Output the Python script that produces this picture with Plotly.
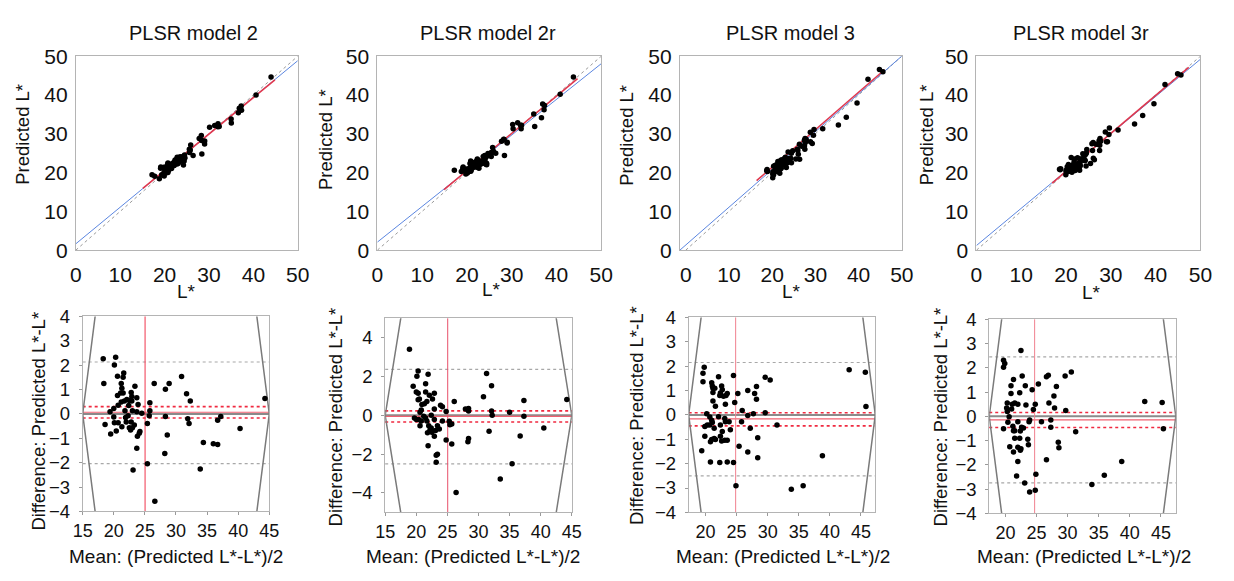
import plotly.graph_objects as go

W, H = 1234, 581
FONT = "Liberation Sans, Arial, sans-serif"

panel_titles = ["PLSR model 2", "PLSR model 2r", "PLSR model 3", "PLSR model 3r"]

# ---- Bland-Altman data: mean of (pred, L*) and difference pred - L* ----
mean_2 = [18.3, 20.3, 20.1, 20.6, 21.6, 21.5, 18.4, 21.2, 21.3, 21.5, 21.1, 20.6, 23.4, 22.8, 22.9,
          23.7, 22.1, 21.7, 22.5, 22.9, 21.2, 20.7, 20.0, 19.4, 21.8, 23.0, 23.7, 23.9, 18.6, 20.0,
          20.1, 20.7, 20.4, 19.5, 21.3, 22.0, 22.3, 22.8, 22.5, 22.7, 23.0, 23.8, 24.1, 24.2, 23.7,
          23.1, 26.5, 25.8, 25.8, 25.7, 25.4, 25.4, 26.6, 28.9, 28.3, 28.3, 28.6, 28.2, 30.9, 31.7,
          32.3, 31.9, 32.1, 33.9, 34.4, 36.0, 36.7, 36.7, 37.2, 40.3, 44.3, 24.5, 22.4, 23.3, 21.9]
diff_2 = [2.26, 2.33, 2.01, 1.55, 1.68, 1.51, 1.25, 1.25, 1.05, 0.86, 0.86, 0.76, 1.14, 0.88, 0.72,
          0.66, 0.59, 0.53, 0.55, 0.53, 0.49, 0.36, 0.22, 0.09, 0.13, 0.13, 0.09, 0.39, -0.43, -0.13,
          -0.36, -0.36, -0.70, -0.82, -0.53, -0.33, -0.07, -0.33, -0.57, -0.66, -0.57, -0.92, -0.79, -0.72, -1.41,
          -2.30, 1.25, 0.46, 0.13, -0.07, -0.39, -2.04, -3.58, 1.25, 1.01, -0.11, -0.86, -1.62, 1.54, 0.83,
          0.53, -0.20, -0.39, -2.26, -1.17, -1.22, -1.25, -0.26, -0.11, -0.60, 0.63, 0.03, 0.35, -0.45, -0.15]

mean_2r = [18.9, 19.5, 20.3, 20.1, 21.9, 20.0, 20.3, 21.5, 21.5, 22.1, 22.9, 22.6, 20.5, 20.3, 21.3,
           20.9, 21.7, 23.9, 24.2, 22.9, 20.8, 20.6, 19.7, 20.0, 20.4, 20.8, 20.6, 21.5, 21.7, 22.4,
           22.9, 22.0, 22.4, 22.5, 21.8, 23.1, 23.4, 23.7, 22.9, 21.9, 23.4, 23.2, 23.2, 24.2, 24.8,
           24.8, 25.3, 25.4, 25.7, 26.1, 25.7, 26.4, 27.9, 28.4, 28.4, 28.4, 28.3, 30.8, 31.3, 32.1,
           31.7, 32.1, 32.2, 33.5, 35.0, 35.4, 37.3, 37.3, 36.7, 40.5, 44.2, 22.2, 21.2]
diff_2r = [3.41, 1.50, 2.29, 2.02, 2.12, 1.21, 1.14, 1.63, 1.21, 1.04, 1.14, 0.85, 0.85, 0.80, 0.60,
           0.56, 0.72, 0.52, 0.44, 0.33, 0.28, 0.16, -0.13, -0.21, -0.21, -0.29, -0.54, -0.13, -0.29, 0.00,
           -0.21, -0.54, -0.65, -0.87, -0.90, -0.78, -0.54, -0.70, -1.08, -1.57, -2.00, -2.06, -2.42, -0.29, -1.27,
           0.20, -0.30, -0.48, -0.45, 0.72, -1.47, -3.97, 0.33, 0.23, 0.36, -1.19, -1.36, 0.96, 2.16, 1.53,
           -0.82, 0.23, 0.00, -3.28, 0.16, -2.50, 0.77, -0.05, -1.06, -0.65, 0.82, -0.75, -0.05]

mean_3 = [19.8, 19.6, 19.6, 19.4, 20.2, 19.9, 19.9, 20.7, 20.7, 20.3, 21.0, 21.1, 21.2, 21.2, 21.0,
          21.1, 21.0, 20.8, 21.4, 21.4, 21.6, 21.6, 21.2, 21.5, 20.8, 22.1, 22.1, 22.3, 22.4, 22.6,
          22.7, 22.4, 22.7, 22.4, 22.6, 22.3, 22.9, 23.3, 23.5, 23.1, 23.2, 23.2, 23.5, 23.1, 23.5,
          23.8, 24.0, 24.5, 24.7, 24.5, 24.9, 25.2, 25.4, 25.9, 25.8, 26.8, 26.8, 26.8, 27.2, 27.7,
          27.9, 28.2, 28.2, 28.4, 28.4, 29.6, 30.4, 29.6, 31.5, 33.8, 35.7, 38.8, 43.1, 45.7, 45.8]
diff_3 = [1.95, 1.71, 1.36, -1.47, 0.05, -0.48, -0.88, -0.09, -0.41, -0.41, 1.32, 1.19, 0.92, 0.57, -0.22,
          -0.31, -1.01, -1.10, -0.55, -0.97, -1.01, 0.35, 1.09, 1.09, -1.93, 1.56, -0.08, 0.80, 0.90, 1.19,
          1.03, -0.41, -0.68, -0.88, -1.07, -1.95, 0.77, 0.80, 0.88, -0.15, -0.28, 0.44, -1.04, -1.04, -1.93,
          -0.28, -0.61, 1.62, 0.51, -1.95, -2.91, 0.88, -1.29, 0.18, -0.28, 1.00, -0.02, -1.52, -0.55, 0.05,
          0.88, 0.64, 1.17, -0.94, -1.76, 1.54, 1.43, 0.09, -0.41, -3.05, -2.91, -1.68, 1.85, 1.75, 0.34]

mean_3r = [19.7, 19.9, 19.7, 19.7, 20.3, 20.2, 20.3, 20.4, 20.6, 20.7, 20.9, 20.9, 21.1, 21.2, 21.3,
           21.5, 21.3, 21.5, 21.5, 21.3, 21.8, 22.0, 22.0, 22.0, 22.0, 22.5, 22.3, 22.4, 22.3, 22.4,
           22.5, 22.7, 22.9, 23.1, 23.2, 23.3, 23.6, 23.7, 23.8, 23.9, 23.9, 24.3, 24.5, 24.8, 24.9,
           24.8, 25.3, 25.8, 26.6, 26.9, 27.0, 27.3, 27.3, 26.6, 27.8, 28.2, 27.9, 28.5, 28.6, 29.6,
           30.6, 29.7, 31.3, 33.9, 35.9, 38.7, 42.4, 45.2, 45.4, 21.0, 22.6]
diff_3r = [2.31, 2.18, 2.02, -0.51, 0.55, 0.34, 0.20, -0.24, -0.02, -1.25, 1.26, 0.94, 0.50, -0.41, -0.59,
           -0.59, 1.52, 0.55, -0.90, -1.47, -2.46, 0.50, -0.22, -1.27, -1.86, 2.71, 0.97, -0.61, -0.90, -1.40,
           -1.34, 1.66, -0.48, -2.75, 1.26, 0.47, -0.94, -1.17, -0.22, -0.15, -3.12, 1.10, 0.28, 0.50, -2.39,
           -3.05, 1.33, -0.22, 1.63, 1.69, 0.55, -0.15, -0.45, -1.79, 0.84, 1.23, 0.34, -1.07, -1.30, 1.66,
           1.83, 0.24, -0.64, -2.81, -2.43, -1.86, 0.61, 0.57, -0.51, 0.30, -0.45]

means = [mean_2, mean_2r, mean_3, mean_3r]
diffs = [diff_2, diff_2r, diff_3, diff_3r]

# ---- fit lines in the predicted-vs-measured panels ----
blue_intercept = [1.64, 2.07, 1.32, 1.20]
blue_slope = [0.944, 0.92, 0.974, 0.96]
red_x0 = [15.1, 14.9, 16.4, 16.9]
red_y0 = [15.9, 15.6, 17.9, 17.3]
red_x1 = [44.85, 44.7, 46.0, 47.4]
red_y1 = [43.9, 44.2, 46.5, 47.1]

# ---- Bland-Altman summary lines ----
mean_diff = [0.07, -0.05, -0.16, -0.15]
ci_low = [-0.17, -0.34, -0.45, -0.46]
ci_high = [0.30, 0.23, 0.09, 0.16]
loa_low = [-2.04, -2.50, -2.50, -2.74]
loa_high = [2.13, 2.37, 2.15, 2.45]
mean_of_means = [25.03, 25.05, 24.85, 24.70]
funnel_left = [15.0, 15.0, 17.3, 17.4]
funnel_right = [45.0, 45.0, 47.3, 47.4]
funnel_slope = 2.0

# ---- axes ----
top_xrange = [[0, 50], [0, 50], [-1.36, 50], [0, 50]]
top_ticks = [0, 10, 20, 30, 40, 50]
bot_xrange = [[15, 45], [15, 45], [17.3, 47.3], [17.4, 47.4]]
bot_yrange = [[-4, 4], [-5, 5], [-4, 4], [-4, 4]]
bot_xticks = [[15, 20, 25, 30, 35, 40, 45], [15, 20, 25, 30, 35, 40, 45],
              [20, 25, 30, 35, 40, 45], [20, 25, 30, 35, 40, 45]]
bot_yticks = [[-4, -3, -2, -1, 0, 1, 2, 3, 4], [-4, -2, 0, 2, 4],
              [-4, -3, -2, -1, 0, 1, 2, 3, 4], [-4, -3, -2, -1, 0, 1, 2, 3, 4]]

# pixel layout of the plot areas
top_px_x = [(67, 293), (374, 602), (682, 908), (984, 1212)]
top_px_y = (46, 248)
bot_px_x = [(74, 264), (382, 572), (691, 881), (997, 1187)]
bot_px_y = [(317, 520), (319, 521), (318, 521), (320, 522)]

vline_colors = ["#f0364c", "#e8506a", "#f0808e", "#f0808e"]


def px_dom_x(a, b):
    return [a / W, b / W]


def px_dom_y(a, b):
    return [1 - b / H, 1 - a / H]


fig = go.Figure()
layout = dict(
    width=W, height=H, margin=dict(l=0, r=0, t=0, b=0),
    paper_bgcolor="white", plot_bgcolor="white", showlegend=False,
    font=dict(family=FONT, color="#111111"),
)
shapes = []
annotations = []

axis_common = dict(showgrid=False, zeroline=False, showline=True, mirror=True,
                   linecolor="#b4b4b4", linewidth=1)

for i in range(4):
    # ---------------- top panel ----------------
    ti = i + 1
    xa = "x" if ti == 1 else f"x{ti}"
    ya = "y" if ti == 1 else f"y{ti}"
    m, d = means[i], diffs[i]
    meas = [mm - dd / 2 for mm, dd in zip(m, d)]
    pred = [mm + dd / 2 for mm, dd in zip(m, d)]
    x0r, x1r = top_xrange[i]
    fig.add_trace(go.Scatter(x=[0, 50], y=[0, 50], mode="lines", xaxis=xa, yaxis=ya,
                             line=dict(color="#9a9a9a", width=1, dash="dot"), hoverinfo="skip"))
    fig.add_trace(go.Scatter(x=[x0r, x1r],
                             y=[blue_intercept[i] + blue_slope[i] * x0r, blue_intercept[i] + blue_slope[i] * x1r],
                             mode="lines", xaxis=xa, yaxis=ya,
                             line=dict(color="#5b86e0", width=1), hoverinfo="skip"))
    fig.add_trace(go.Scatter(x=[red_x0[i], red_x1[i]], y=[red_y0[i], red_y1[i]], mode="lines",
                             xaxis=xa, yaxis=ya, line=dict(color="#e0384e", width=1.6), hoverinfo="skip"))
    fig.add_trace(go.Scatter(x=meas, y=pred, mode="markers", xaxis=xa, yaxis=ya,
                             marker=dict(color="black", size=5.5)))
    layout["xaxis" if ti == 1 else f"xaxis{ti}"] = dict(
        axis_common, domain=px_dom_x(*top_px_x[i]), range=top_xrange[i], anchor=ya,
        tickvals=top_ticks, ticks="", ticklabelstandoff=6, tickfont=dict(size=21, family=FONT))
    layout["yaxis" if ti == 1 else f"yaxis{ti}"] = dict(
        axis_common, domain=px_dom_y(*top_px_y), range=[0, 50], anchor=xa,
        tickvals=top_ticks, ticks="", ticklabelstandoff=3, tickfont=dict(size=21, family=FONT))

    # ---------------- bottom panel ----------------
    bi = i + 5
    xb, yb = f"x{bi}", f"y{bi}"
    ylo, yhi = bot_yrange[i]
    ext = max(abs(ylo), abs(yhi)) + 1
    L, R = funnel_left[i], funnel_right[i]
    fig.add_trace(go.Scatter(x=[L + ext / funnel_slope, L, L + ext / funnel_slope], y=[-ext, 0, ext],
                             mode="lines", xaxis=xb, yaxis=yb,
                             line=dict(color="#7a7a7a", width=1.5), hoverinfo="skip"))
    fig.add_trace(go.Scatter(x=[R - ext / funnel_slope, R, R - ext / funnel_slope], y=[-ext, 0, ext],
                             mode="lines", xaxis=xb, yaxis=yb,
                             line=dict(color="#7a7a7a", width=1.5), hoverinfo="skip"))
    fig.add_trace(go.Scatter(x=m, y=d, mode="markers", xaxis=xb, yaxis=yb,
                             marker=dict(color="black", size=5.5)))

    dom = f"{xb} domain"
    shapes += [
        dict(type="line", xref=dom, yref=yb, x0=0, x1=1, y0=0, y1=0,
             line=dict(color="#8a8a8a", width=2), layer="below"),
        dict(type="line", xref=dom, yref=yb, x0=0, x1=1, y0=loa_high[i], y1=loa_high[i],
             line=dict(color="#a8a8a8", width=1.2, dash="dot"), layer="below"),
        dict(type="line", xref=dom, yref=yb, x0=0, x1=1, y0=loa_low[i], y1=loa_low[i],
             line=dict(color="#a8a8a8", width=1.2, dash="dot"), layer="below"),
        dict(type="line", xref=dom, yref=yb, x0=0, x1=1, y0=mean_diff[i], y1=mean_diff[i],
             line=dict(color="#f06070", width=1.2), layer="below"),
        dict(type="line", xref=dom, yref=yb, x0=0, x1=1, y0=ci_high[i], y1=ci_high[i],
             line=dict(color="#f02a40", width=1.6, dash="dot"), layer="below"),
        dict(type="line", xref=dom, yref=yb, x0=0, x1=1, y0=ci_low[i], y1=ci_low[i],
             line=dict(color="#f02a40", width=1.6, dash="dot"), layer="below"),
        dict(type="line", xref=xb, yref=f"{yb} domain", x0=mean_of_means[i], x1=mean_of_means[i], y0=0, y1=1,
             line=dict(color=vline_colors[i], width=1), layer="below"),
    ]
    layout[f"xaxis{bi}"] = dict(
        axis_common, domain=px_dom_x(*bot_px_x[i]), range=bot_xrange[i], anchor=yb,
        tickvals=bot_xticks[i], ticks="outside", ticklen=3, tickcolor="#9a9a9a",
        tickfont=dict(size=18, family=FONT))
    layout[f"yaxis{bi}"] = dict(
        axis_common, domain=px_dom_y(*bot_px_y[i]), range=bot_yrange[i], anchor=xb,
        tickvals=bot_yticks[i], ticks="outside", ticklen=3, tickcolor="#9a9a9a",
        ticklabelstandoff=5, tickfont=dict(size=18.5, family=FONT))

# ---- text (titles) ----
title_pos = [(186.7, 22), (486.7, 22), (795, 22), (1090.7, 22)]
top_xtitle_pos = [(180, 291), (490, 289), (796, 291), (1101, 292)]
top_ytitle_pos = [(13, 127), (321, 133), (628, 128), (934, 128)]
bot_ytitle_pos = [(29, 426), (331, 422), (638, 420), (947, 422)]
bot_xtitle_pos = [(169, 567), (471, 567), (787, 567), (1093, 567)]


def ann(text, pos, size, angle=0):
    return dict(text=text, x=pos[0] / W, y=1 - pos[1] / H, xref="paper", yref="paper",
                xanchor="center", yanchor="middle", showarrow=False, textangle=angle,
                font=dict(size=size, family=FONT, color="#111111"))


for i in range(4):
    annotations.append(ann(panel_titles[i], title_pos[i], 20))
    annotations.append(ann("L*", top_xtitle_pos[i], 19))
    annotations.append(ann("Predicted L*", top_ytitle_pos[i], 18.5, -90))
    annotations.append(ann("Difference: Predicted L*-L*", bot_ytitle_pos[i], 18.5, -90))
    annotations.append(ann("Mean: (Predicted L*-L*)/2", bot_xtitle_pos[i], 19))

layout["shapes"] = shapes
layout["annotations"] = annotations
fig.update_layout(**layout)
fig.write_html("out.html")
